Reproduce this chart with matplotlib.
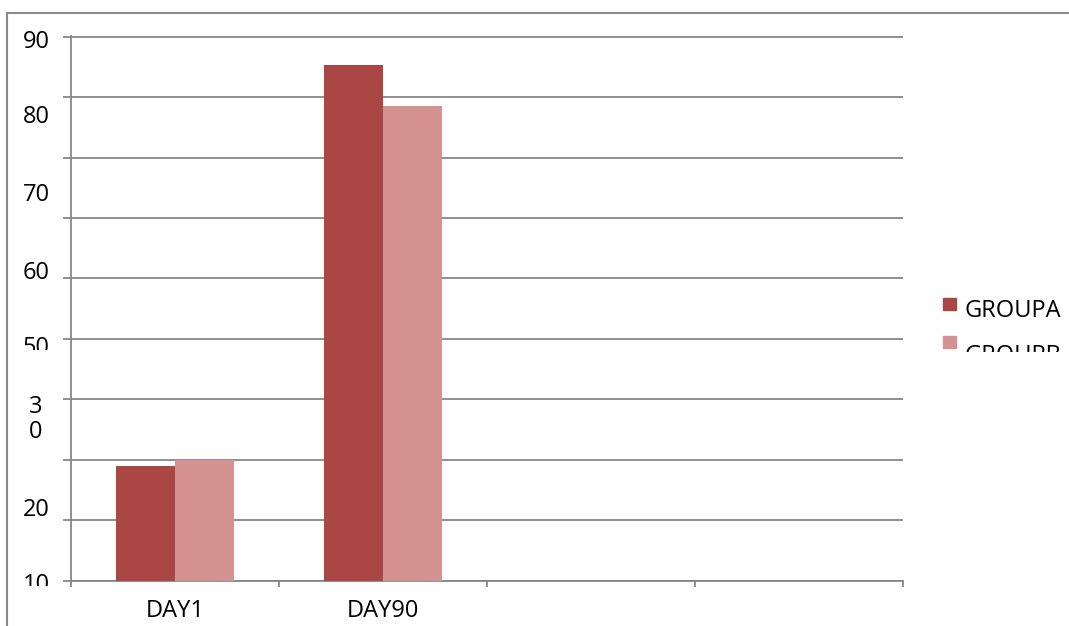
import matplotlib
matplotlib.use("Agg")
import matplotlib.pyplot as plt
from matplotlib.patches import Rectangle
from matplotlib.transforms import Bbox
import numpy as np

# ---- data ----
categories = ["DAY1", "DAY90"]
n_slots = 4
series_names = ["GROUPA", "GROUPB"]
group_a = [19.0, 85.4]
group_b = [20.0, 78.5]
y_grid = list(range(0, 100, 10))
y_label_text = ["90", "80", "70", "60", "50", "3\n0", "20", "10"]
y_label_pos = [89.2, 76.7, 63.8, 50.9, 38.5, 26.7, 11.7, -0.7]

colors = ["#AA4744", "#D49291"]
gray = "#878787"

W, H = 1069, 626
plt.rcParams['font.family'] = ['Open Sans', 'DejaVu Sans']
fig = plt.figure(figsize=(W / 100, H / 100), dpi=100)

ax = fig.add_axes([71 / W, (H - 580.7) / H, 832 / W, (580.7 - 36.1) / H])

bw = 0.284
x = np.arange(len(categories))
ax.bar(x - bw / 2, group_a, width=bw, color=colors[0], label=series_names[0], zorder=3)
ax.bar(x + bw / 2, group_b, width=bw, color=colors[1], label=series_names[1], zorder=3)

ax.set_xlim(-0.5, n_slots - 0.5)
ax.set_ylim(0, 90.1)

for s in ["top", "right"]:
    ax.spines[s].set_visible(False)
for s in ["left", "bottom"]:
    ax.spines[s].set_color(gray)
    ax.spines[s].set_linewidth(1.3)

ax.set_yticks(y_grid)
ax.set_yticklabels([])
ax.tick_params(axis="y", length=5.8, width=1.3, color=gray, direction="out")
ax.yaxis.grid(True, color=gray, linewidth=1.3, zorder=0)
ax.set_axisbelow(True)

ax.set_xticks(np.arange(n_slots + 1) - 0.5)
ax.set_xticklabels([])
ax.tick_params(axis="x", which="major", length=4.5, width=1.3, color=gray)
ax.set_xticks(x, minor=True)
ax.set_xticklabels(categories, minor=True, fontsize=17)
ax.tick_params(axis="x", which="minor", length=0, pad=13)

# y labels (as rendered in reference)
clip_specs = {4: 349.5, 7: 585.5}
for i, (t, p) in enumerate(zip(y_label_text, y_label_pos)):
    tx = ax.text(-0.042, p, t, transform=ax.get_yaxis_transform(), ha="center",
                 va="center", fontsize=17, linespacing=1.05)
    if i in clip_specs:
        tx.set_clip_box(Bbox.from_extents(0, H - clip_specs[i], W, H))
        tx.set_clip_on(True)

# legend (manual)
sq_top = [298, 336]
txt_base = [316.7, 362]
for i, name in enumerate(series_names):
    fig.add_artist(Rectangle((943 / W, (H - sq_top[i] - 12) / H), 13 / W, 12 / H,
                             transform=fig.transFigure, color=colors[i]))
    tx = ax.text(964 / W, (H - txt_base[i]) / H, name, fontsize=17, va="baseline",
                 ha="left", transform=fig.transFigure)
    if i == 1:
        tx.set_clip_box(Bbox.from_extents(0, H - 352, W, H))
        tx.set_clip_on(True)
    else:
        tx.set_clip_on(False)

# outer frame
fig.add_artist(Rectangle((7 / W, -0.5), 2.0, (H - 13) / H + 0.5, transform=fig.transFigure,
                         fill=False, ec="#8a8a8a", lw=1.5))

fig.savefig("out.png", dpi=100)
